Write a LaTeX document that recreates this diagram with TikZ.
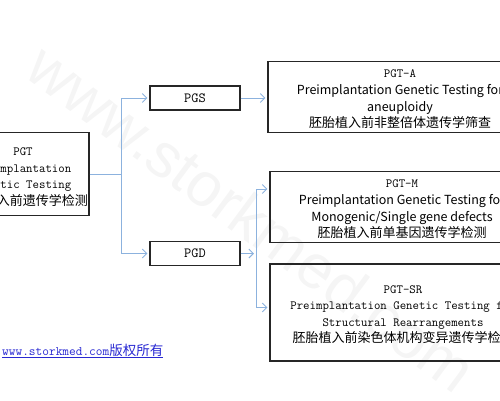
\documentclass[tikz,border=0pt]{standalone}
\usepackage{fontspec}
\newfontfamily\cjk{Noto Sans CJK SC}
\newfontfamily\wmfont{Liberation Sans}
\usepackage{tikz}
\usetikzlibrary{arrows.meta,positioning}
\definecolor{linkblue}{RGB}{140,178,222}
\definecolor{urlblue}{RGB}{40,40,210}

\begin{document}
\begin{tikzpicture}[x=1pt, y=-1pt,
    box/.style={draw=black!85, line width=1.1pt, align=center, inner sep=0pt,
      font=\fontsize{12.5}{16.5}\selectfont},
    tag/.style={box, minimum width=90, minimum height=24, font=\ttfamily\fontsize{14}{15}\selectfont},
    link/.style={draw=linkblue, line width=0.9pt},
    arr/.style={link, -{Straight Barb[length=4.5pt,width=9pt]}, shorten >=2pt}]
    \useasboundingbox (0,0) rectangle (500,400);
    \clip (0,0) rectangle (500,400);
    % watermark
    \node[text=black!4, font=\wmfont\fontsize{62}{62}\selectfont, rotate=-36.5] (mark) at (252,218) {www.storkmed.com};
    \node (pgt) [box, minimum width=132, minimum height=83] at (23,174)
      {\rule{0pt}{14pt}\ttfamily PGT\\ \ttfamily Preimplantation\\ \ttfamily Genetic Testing\\ \cjk\fontsize{13}{16.5}\selectfont 胚胎植入前遗传学检测};
    \node (pgs) [tag] at (195,98) {PGS};
    \node (pgd) [tag] at (195,253.5) {PGD};
    \node (pgta) [box, minimum width=264, minimum height=71] at (400,97)
      {\rule{0pt}{12pt}\ttfamily PGT-A\\[1pt] \cjk Preimplantation Genetic Testing for\\ \cjk aneuploidy\\ \cjk\fontsize{13}{16}\selectfont 胚胎植入前非整倍体遗传学筛查};
    \node (pgtm) [box, minimum width=264, minimum height=71] at (402,207)
      {\rule{0pt}{12pt}\ttfamily PGT-M\\[1pt] \cjk Preimplantation Genetic Testing for\\ \cjk Monogenic/Single gene defects\\ \cjk\fontsize{13}{16}\selectfont 胚胎植入前单基因遗传学检测};
    \node (pgtsr) [box, minimum width=266, minimum height=97] at (403,312.5)
      {\rule{0pt}{12pt}\ttfamily PGT-SR\\ \ttfamily Preimplantation Genetic Testing for\\ \ttfamily Structural Rearrangements\\ \cjk\fontsize{13}{16}\selectfont 胚胎植入前染色体机构变异遗传学检测};
    \node (copy) [anchor=west, text=urlblue, inner sep=0pt] at (2,351)
      {\underline{\ttfamily\fontsize{13}{15}\selectfont www.storkmed.com\cjk\fontsize{13.5}{15}\selectfont 版权所有}};
    % connectors
    \draw[link] (pgt.east) -- ++(32,0) coordinate (fork1);
    \draw[arr] (fork1) |- (pgs.west);
    \draw[arr] (fork1) |- (pgd.west);
    \draw[arr] (pgs.east) -- (pgs.east -| pgta.west);
    \coordinate (fork2) at (256,253.5);
    \draw[arr] (pgd.east) -- (fork2);
    \draw[arr] (fork2) |- ([yshift=18pt]pgtm.west);
    \draw[arr] (fork2) |- ([yshift=5pt]pgtsr.west);
\end{tikzpicture}
\end{document}
